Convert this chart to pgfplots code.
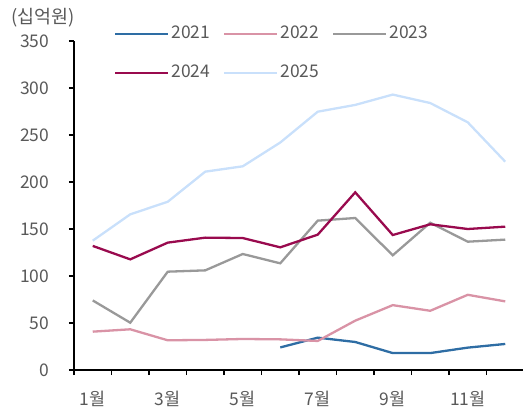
\documentclass[border=0pt]{standalone}
\usepackage{fontspec}
\setmainfont{Noto Sans CJK KR}
\usepackage{pgfplots}
\pgfplotsset{compat=1.18}
\definecolor{c21}{HTML}{2E6DA4}
\definecolor{c22}{HTML}{D993A6}
\definecolor{c23}{HTML}{999999}
\definecolor{c24}{HTML}{990A4E}
\definecolor{c25}{HTML}{C9E0FB}
\definecolor{txt}{HTML}{595959}
\begin{document}
\fontsize{17}{20}\selectfont
\begin{tikzpicture}
\useasboundingbox (-74bp,-42bp) rectangle (449bp,370bp);
\begin{axis}[
  name=ax,
  at={(0,0)}, anchor=south west,
  scale only axis, width=450bp, height=329bp,
  xmin=0.5, xmax=12.5, ymin=0, ymax=350,
  axis x line*=bottom, axis y line*=left,
  axis line style={black, line width=1.1bp},
  tick align=outside,
  major tick length=5bp,
  tick style={black, line width=1.1bp},
  xtick={0.5,1.5,...,12.5},
  xticklabels={},
  extra x ticks={1,3,5,7,9,11},
  extra x tick labels={1월,3월,5월,7월,9월,11월},
  extra x tick style={tick style={draw=none}},
  ytick={0,50,...,350},
  /pgf/number format/assume math mode=true,
  ticklabel style={text=txt, font=\fontsize{17.5}{20}\selectfont},
  yticklabel style={xshift=-14bp},
  xticklabel style={yshift=-10bp},
  legend columns=3,
  legend style={draw=none, fill=none, at={(0.0825,1.058)}, anchor=north west,
    text=txt, font=\fontsize{17.5}{20}\selectfont, row sep=20bp,
    /tikz/every even column/.append style={column sep=11bp}},
  legend cell align=left,
  legend image code/.code={\draw[#1] (0bp,0bp) -- (53bp,0bp);},
  every axis plot/.append style={line width=2.3bp},
]
\addplot[c21] coordinates {(6,24) (7,34.4) (8,29.8) (9,18) (10,18) (11,23.8) (12,27.7)};
\addlegendentry{2021}
\addplot[c22] coordinates {(1,40.8) (2,43.3) (3,31.6) (4,32) (5,33) (6,32.6) (7,30.9) (8,52.5) (9,69) (10,63) (11,80) (12,73)};
\addlegendentry{2022}
\addplot[c23] coordinates {(1,74) (2,50.3) (3,104.6) (4,106) (5,123.4) (6,113.5) (7,158.9) (8,161.7) (9,122) (10,156.7) (11,136.5) (12,138.7)};
\addlegendentry{2023}
\addplot[c24] coordinates {(1,132) (2,117.7) (3,135.5) (4,140.8) (5,140.4) (6,130.5) (7,144) (8,189) (9,143.6) (10,155) (11,150) (12,152.5)};
\addlegendentry{2024}
\addplot[c25] coordinates {(1,137.6) (2,165.6) (3,179) (4,211) (5,216.7) (6,242) (7,274.8) (8,282) (9,293) (10,284) (11,263.5) (12,221.6)};
\addlegendentry{2025}
\end{axis}
\node[text=txt, font=\fontsize{18.5}{20}\selectfont] at ([xshift=-31bp,yshift=23bp]ax.north west) {(십억원)};
\end{tikzpicture}
\end{document}
